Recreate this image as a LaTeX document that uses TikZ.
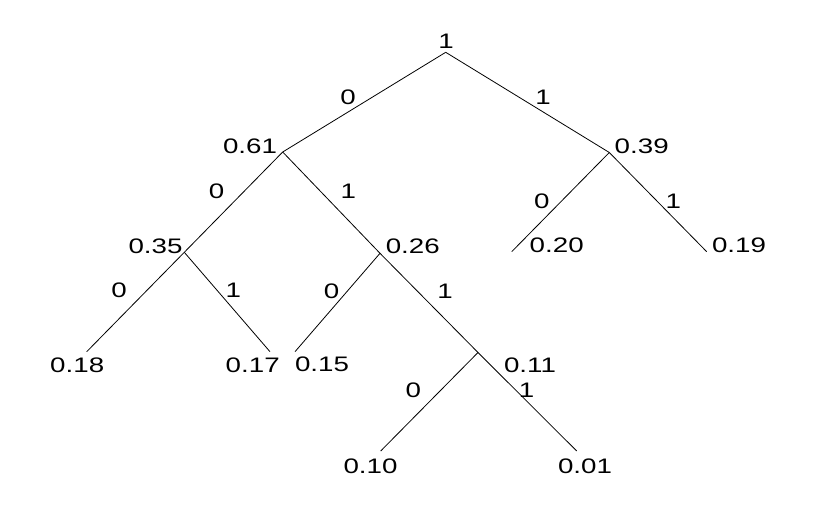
\documentclass[tikz,border=0pt]{standalone}
\usepackage{fontspec}
\setmainfont{Liberation Sans}[FakeStretch=1.32]
\begin{document}
\begin{tikzpicture}[x=1pt,y=-1pt,
  lab/.style={inner sep=0pt,anchor=center,font=\fontsize{21}{25}\selectfont},
  edge/.style={draw=black,line width=0.8pt}]
\useasboundingbox (0,0) rectangle (837,532);
% vertices
\coordinate (r) at (445.7,52.3);
\coordinate (a) at (282.7,152);
\coordinate (b) at (609.3,152.5);
\coordinate (c) at (184.3,252.3);
\coordinate (d) at (380,253.3);
\coordinate (e) at (511.7,251.7);
\coordinate (f) at (706.7,251.7);
\coordinate (g) at (86.7,351.7);
\coordinate (h) at (270,351.7);
\coordinate (i) at (295,351.7);
\coordinate (j) at (478,352.5);
\coordinate (k) at (380.7,451);
\coordinate (l) at (576.7,451);
% edges
\draw[edge] (r) -- (a);
\draw[edge] (r) -- (b);
\draw[edge] (a) -- (c);
\draw[edge] (a) -- (d);
\draw[edge] (b) -- (e);
\draw[edge] (b) -- (f);
\draw[edge] (c) -- (g);
\draw[edge] (c) -- (h);
\draw[edge] (d) -- (i);
\draw[edge] (d) -- (j);
\draw[edge] (j) -- (k);
\draw[edge] (j) -- (l);
% value labels
\node[lab] (tr) at (446,41) {1};
\node[lab] (ta) at (250,146) {0.61};
\node[lab] (tb) at (641.7,146) {0.39};
\node[lab] (tc) at (155.5,246) {0.35};
\node[lab] (td) at (412.8,246.3) {0.26};
\node[lab] (te) at (556.7,245.3) {0.20};
\node[lab] (tf) at (739,245.3) {0.19};
\node[lab] (tg) at (77.2,364.8) {0.18};
\node[lab] (th) at (252.7,365) {0.17};
\node[lab] (ti) at (322,364.5) {0.15};
\node[lab] (tj) at (530,364.8) {0.11};
\node[lab] (tk) at (370.5,465.8) {0.10};
\node[lab] (tl) at (585,465.8) {0.01};
% edge labels
\node[lab] (era) at (348,97) {0};
\node[lab] (erb) at (543,97) {1};
\node[lab] (eac) at (216.7,191.7) {0};
\node[lab] (ead) at (348.3,191.7) {1};
\node[lab] (ebe) at (541.7,201.7) {0};
\node[lab] (ebf) at (673.3,201.7) {1};
\node[lab] (ecg) at (119,290.7) {0};
\node[lab] (ech) at (233.3,290) {1};
\node[lab] (edi) at (331.7,291.7) {0};
\node[lab] (edj) at (445,291.7) {1};
\node[lab] (ejk) at (413.3,390.7) {0};
\node[lab] (ejl) at (526.7,390) {1};
\end{tikzpicture}
\end{document}
